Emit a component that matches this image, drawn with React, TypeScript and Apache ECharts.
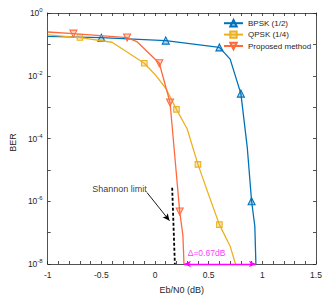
import { useEffect, useRef } from "react";
import * as echarts from "echarts";

// ---- data ----
const bpskX = [-1, -0.5, 0.1, 0.6, 0.7, 0.8, 0.86, 0.9, 0.93, 0.94];
const bpskBer = [0.18, 0.164, 0.132, 0.08, 0.034, 0.0027, 5e-5, 1e-6, 1.6e-7, 1e-8];
const bpskMarked = [false, true, true, true, false, true, false, true, false, false];

const qpskX = [-1, -0.7, -0.4, -0.1, 0, 0.1, 0.2, 0.3, 0.4, 0.5, 0.6, 0.7, 0.75];
const qpskBer = [0.2, 0.165, 0.117, 0.025, 0.011, 0.004, 8.5e-4, 2e-4, 1.5e-5, 1.6e-6, 1.8e-7, 3.7e-8, 1e-8];
const qpskMarked = [false, true, false, true, false, false, true, false, true, false, true, false, false];

const propX = [-1, -0.76, -0.26, -0.17, 0.04, 0.14, 0.23, 0.26, 0.27];
const propBer = [0.248, 0.22, 0.165, 0.123, 0.025, 0.0014, 4.7e-7, 8e-8, 1e-8];
const propMarked = [false, true, true, false, true, true, true, false, false];

const shannonX = [0.16, 0.185];
const shannonBer = [2.7e-6, 1e-8];

const seriesNames = ["BPSK (1/2)", "QPSK (1/4)", "Proposed method"];
const seriesColors = ["#0072BD", "#EDB120", "#FF6A3D"];
const seriesFill = ["rgba(0,114,189,0.3)", "rgba(237,177,32,0.3)", "rgba(255,106,61,0.3)"];

const shannonText = "Shannon limit";
const shannonTextPos = [-0.33, 2.5e-6];
const shannonArrowFrom = [-0.075, 1.9e-6];
const shannonArrowTo = [0.135, 2.4e-7];

const deltaText = "Δ=0.67dB";
const deltaTextPos = [0.48, 2.2e-8];
const deltaFrom = [0.27, 1e-8];
const deltaTo = [0.94, 1e-8];

const xMin = -1;
const xMax = 1.5;
const xInterval = 0.5;
const yMin = 1e-8;
const yMax = 1;

const FONT = "Liberation Sans, Arial, sans-serif";
const TXT = "#262626";

function buildData(xs: number[], ys: number[], marked: boolean[]) {
  return xs.map((x, i) =>
    marked[i] ? { value: [x, ys[i]] } : { value: [x, ys[i]], symbol: "none" }
  );
}

export default function App() {
  const ref = useRef<HTMLDivElement>(null);
  useEffect(() => {
    const chart = echarts.init(ref.current!, undefined, { renderer: "svg" });
    const lineSeries = [
      { xs: bpskX, ys: bpskBer, m: bpskMarked, sym: "triangle", rot: 0 },
      { xs: qpskX, ys: qpskBer, m: qpskMarked, sym: "rect", rot: 0 },
      { xs: propX, ys: propBer, m: propMarked, sym: "triangle", rot: 180 },
    ].map((s, i) => ({
      name: seriesNames[i],
      type: "line",
      xAxisIndex: 0,
      yAxisIndex: 0,
      data: buildData(s.xs, s.ys, s.m),
      symbol: s.sym,
      symbolRotate: s.rot,
      symbolSize: i === 1 ? 5.5 : 7,
      showAllSymbol: true,
      lineStyle: { color: seriesColors[i], width: 1.3 },
      itemStyle: { color: seriesFill[i], borderColor: seriesColors[i], borderWidth: 1.1 },
      z: 3 + i,
    }));

    const yLabel = (v: number) => {
      const e = Math.round(Math.log10(v));
      if (e % 2 !== 0) return "";
      return `{b|10}{s|${e}}`;
    };

    const option: any = {
      animation: false,
      backgroundColor: "#ffffff",
      textStyle: { fontFamily: FONT },
      grid: { left: 34, right: 16, top: 13, bottom: 31, containLabel: false },
      legend: {
        data: seriesNames,
        orient: "vertical",
        left: 223,
        top: 19,
        itemWidth: 19,
        itemHeight: 8,
        itemGap: 3,
        padding: 0,
        textStyle: { fontSize: 8, color: TXT, fontFamily: FONT },
      },
      xAxis: [
        {
          type: "value",
          min: xMin,
          max: xMax,
          interval: xInterval,
          name: "Eb/N0 (dB)",
          nameLocation: "middle",
          nameGap: 21,
          nameTextStyle: { fontSize: 9, color: TXT, fontFamily: FONT },
          axisLine: { show: true, onZero: false, lineStyle: { color: TXT, width: 0.8 } },
          axisTick: { show: true, inside: true, length: 3, lineStyle: { color: TXT, width: 0.8 } },
          minorTick: { show: true, splitNumber: 5, length: 3, lineStyle: { color: TXT, width: 0.8 } },
          splitLine: { show: false },
          axisLabel: { fontSize: 8.5, color: TXT, margin: 6, fontFamily: FONT },
        },
        {
          type: "value",
          position: "top",
          min: xMin,
          max: xMax,
          interval: xInterval,
          axisLine: { show: true, onZero: false, lineStyle: { color: TXT, width: 0.8 } },
          axisTick: { show: true, inside: true, length: 3, lineStyle: { color: TXT, width: 0.8 } },
          minorTick: { show: true, splitNumber: 5, length: 3, lineStyle: { color: TXT, width: 0.8 } },
          splitLine: { show: false },
          axisLabel: { show: false },
        },
      ],
      yAxis: [
        {
          type: "log",
          logBase: 10,
          min: yMin,
          max: yMax,
          name: "BER",
          nameLocation: "middle",
          nameGap: 24,
          nameTextStyle: { fontSize: 9, color: TXT, fontFamily: FONT, padding: [0, 8, 0, 0] },
          axisLine: { show: true, onZero: false, lineStyle: { color: TXT, width: 0.8 } },
          axisTick: { show: true, inside: true, length: 3, lineStyle: { color: TXT, width: 0.8 } },
          splitLine: { show: false },
          axisLabel: {
            margin: 5,
            formatter: yLabel,
            rich: {
              b: { fontSize: 8.5, color: TXT, fontFamily: FONT, lineHeight: 12 },
              s: { fontSize: 6, color: TXT, fontFamily: FONT, lineHeight: 5, verticalAlign: "top" },
            },
          },
        },
        {
          type: "log",
          logBase: 10,
          position: "right",
          min: yMin,
          max: yMax,
          axisLine: { show: true, onZero: false, lineStyle: { color: TXT, width: 0.8 } },
          axisTick: { show: true, inside: true, length: 3, lineStyle: { color: TXT, width: 0.8 } },
          splitLine: { show: false },
          axisLabel: { show: false },
        },
      ],
      series: [
        ...lineSeries,
        {
          name: "Shannon",
          type: "line",
          xAxisIndex: 0,
          yAxisIndex: 0,
          data: shannonX.map((x, i) => [x, shannonBer[i]]),
          symbol: "none",
          lineStyle: { color: "#000", width: 1.8, type: [3, 2] },
          z: 2,
          markLine: {
            silent: true,
            animation: false,
            label: { show: false },
            data: [
              [
                { coord: shannonArrowFrom, symbol: "none", lineStyle: { color: "#000", width: 0.9, type: "solid" } },
                { coord: shannonArrowTo, symbol: "arrow", symbolSize: [5, 7] },
              ],
              [
                { coord: deltaFrom, symbol: "arrow", symbolSize: [5, 7], lineStyle: { color: "#FF00FF", width: 1.4, type: "solid" } },
                { coord: deltaTo, symbol: "arrow", symbolSize: [5, 7] },
              ],
            ],
          },
        },
        {
          name: "annotations",
          type: "scatter",
          xAxisIndex: 0,
          yAxisIndex: 0,
          symbolSize: 0,
          silent: true,
          z: 10,
          data: [
            {
              value: shannonTextPos,
              label: { show: true, position: "inside", formatter: shannonText, fontSize: 9, color: "#000", fontFamily: FONT },
            },
            {
              value: deltaTextPos,
              label: { show: true, position: "inside", formatter: deltaText, fontSize: 8.5, color: "#FF00FF", fontFamily: FONT },
            },
          ],
        },
      ],
    };
    chart.setOption(option);
    return () => chart.dispose();
  }, []);
  return (
    <div
      ref={ref}
      style={{ position: "absolute", left: 0, top: 0, width: 332, height: 299, background: "#fff" }}
    />
  );
}
